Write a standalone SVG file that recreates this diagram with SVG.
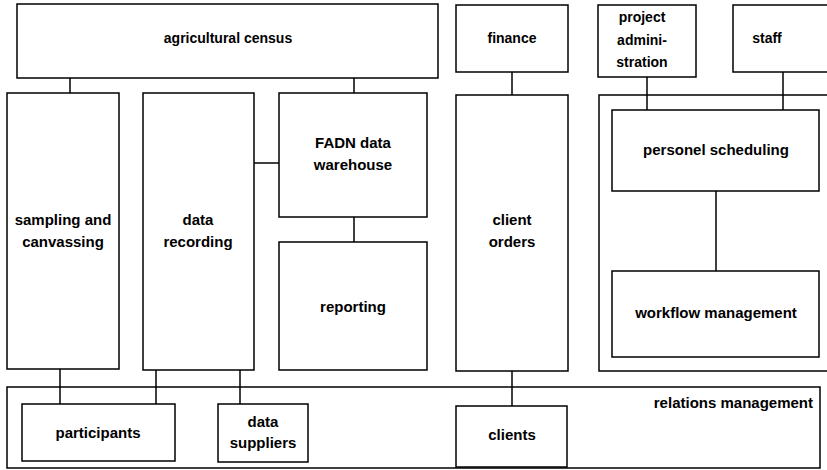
<svg xmlns="http://www.w3.org/2000/svg" width="827" height="470" viewBox="0 0 827 470">
<style>
.box{fill:#fff;stroke:#000;stroke-width:1.5}
.grp{fill:none;stroke:#000;stroke-width:1.5}
.con line{stroke:#000;stroke-width:1.5}
.t{font-family:"Liberation Sans",Arial,sans-serif;font-weight:bold;font-size:14px;text-anchor:middle;fill:#000}
.m{font-family:"Liberation Sans",Arial,sans-serif;font-weight:bold;font-size:15px;text-anchor:middle;fill:#000}
</style>
<rect width="827" height="470" fill="#fff"/>
<g id="relations-management">
<rect class="grp" x="7" y="387" width="813" height="81"/>
<text class="m" x="813" y="408" style="text-anchor:end">relations management</text>
</g>
<g id="right-group"><rect class="grp" x="599" y="95" width="240" height="276"/></g>
<g class="con" id="connectors">
<line x1="70" y1="78" x2="70" y2="93"/>
<line x1="354" y1="78" x2="354" y2="93"/>
<line x1="254" y1="163" x2="279" y2="163"/>
<line x1="354" y1="217" x2="354" y2="242"/>
<line x1="512" y1="72" x2="512" y2="95"/>
<line x1="647" y1="77" x2="647" y2="110"/>
<line x1="783" y1="72" x2="783" y2="110"/>
<line x1="716" y1="191" x2="716" y2="271"/>
<line x1="60" y1="369" x2="60" y2="404"/>
<line x1="156" y1="370" x2="156" y2="404"/>
<line x1="240" y1="370" x2="240" y2="404"/>
<line x1="512" y1="371" x2="512" y2="406"/>
</g>
<g id="agricultural-census"><rect class="box" x="17" y="4" width="421" height="74"/><text class="t" x="228" y="43">agricultural census</text></g>
<g id="finance"><rect class="box" x="456" y="5" width="112" height="67"/><text class="t" x="512" y="43">finance</text></g>
<g id="project-administration"><rect class="box" x="598" y="5" width="98" height="72"/><text class="t" x="642" y="22">project</text><text class="t" x="642" y="45">admini-</text><text class="t" x="642" y="67">stration</text></g>
<g id="staff"><rect class="box" x="733" y="5" width="110" height="67"/><text class="t" x="767" y="43">staff</text></g>
<g id="sampling"><rect class="box" x="7" y="93" width="112" height="276"/><text class="m" x="63" y="225">sampling and</text><text class="m" x="63" y="247">canvassing</text></g>
<g id="data-recording"><rect class="box" x="143" y="93" width="111" height="277"/><text class="m" x="198" y="225">data</text><text class="m" x="198" y="247">recording</text></g>
<g id="fadn"><rect class="box" x="279" y="93" width="148" height="124"/><text class="m" x="353" y="148">FADN data</text><text class="m" x="353" y="170">warehouse</text></g>
<g id="reporting"><rect class="box" x="279" y="242" width="148" height="128"/><text class="m" x="353" y="312">reporting</text></g>
<g id="client-orders"><rect class="box" x="456" y="95" width="112" height="276"/><text class="m" x="512" y="225">client</text><text class="m" x="512" y="247">orders</text></g>
<g id="personel-scheduling"><rect class="box" x="612" y="110" width="207" height="81"/><text class="m" x="716" y="155">personel scheduling</text></g>
<g id="workflow-management"><rect class="box" x="612" y="271" width="207" height="86"/><text class="m" x="716" y="318">workflow management</text></g>
<g id="participants"><rect class="box" x="22" y="404" width="153" height="57"/><text class="m" x="98" y="438">participants</text></g>
<g id="data-suppliers"><rect class="box" x="218" y="404" width="90" height="58"/><text class="m" x="263" y="427">data</text><text class="m" x="263" y="448">suppliers</text></g>
<g id="clients"><rect class="box" x="456" y="406" width="111" height="61"/><text class="m" x="512" y="440">clients</text></g>
</svg>
